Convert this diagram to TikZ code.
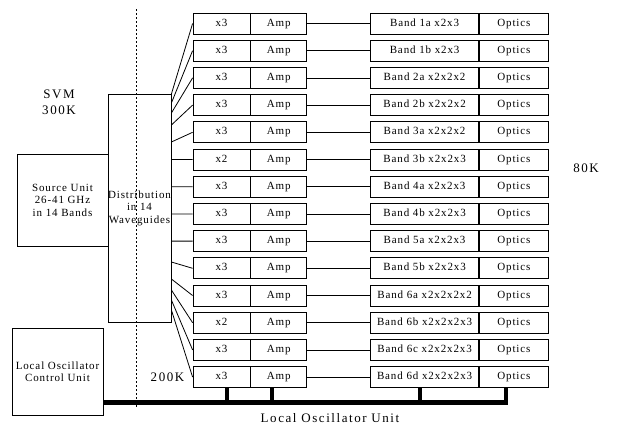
\documentclass[tikz,border=0pt]{standalone}
\usepackage{fontspec}
\setmainfont{Liberation Serif}[LetterSpace=8]
\newfontfamily\labelfont{Liberation Serif}[LetterSpace=12]
\usetikzlibrary{positioning,calc}
\begin{document}
\begin{tikzpicture}
	[
	x = 1pt, y = -1pt,
	every node/.style={font=\fontsize{11}{12.5}\selectfont},
	bx/.style={draw = black, line width = 0.8pt, shape = rectangle, inner sep = 0pt, minimum height = 21pt, text height = 7.5pt, text depth = 2.5pt},
	mult/.style={bx, minimum width = 57pt},
	amp/.style={bx, minimum width = 56pt},
	band/.style={bx, minimum width = 108pt},
	optics/.style={bx, minimum width = 69pt},
	unit/.style={draw = black, line width = 0.8pt, align = center, inner sep = 0pt},
	temp/.style={font=\labelfont\fontsize{13}{16}\selectfont, align = center},
	wire/.style={draw = black, line width = 0.8pt},
	stub/.style={line width = 4pt},
	bus/.style={line width = 5pt}
	]
	
	\useasboundingbox (0,0) rectangle (617,426);
	
	\node[unit, minimum width = 91pt, minimum height = 92pt](src) at (62.5, 200){Source Unit\\26-41 GHz\\in 14 Bands};
	\node[unit, minimum width = 63pt, minimum height = 228pt](dist) at (139.5, 208){Distribution\\in 14\\Waveguides};
	\node[unit, minimum width = 91pt, minimum height = 87pt](lo) at (57.5, 371.5){Local Oscillator\\Control Unit};
	
	\draw[line width = 0.8pt, dash pattern = on 2pt off 2pt] (136, 9) -- (136, 407);
	
	\foreach \i/\m/\b/\d in {1/3/1a x2x3/94, 2/3/1b x2x3/103, 3/3/2a x2x2x2/113,
		4/3/2b x2x2x2/125, 5/3/3a x2x2x2/142, 6/2/3b x2x2x3/159.5, 7/3/4a x2x2x3/186.7,
		8/3/4b x2x2x3/213.9, 9/3/5a x2x2x3/241.1, 10/3/5b x2x2x3/262, 11/3/6a x2x2x2x2/279,
		12/2/6b x2x2x2x3/290, 13/3/6c x2x2x2x3/300, 14/3/6d x2x2x2x3/310}
	{
		\node[mult](m\i) at (221.5, {23.5+27.2*(\i-1)}){x\m};
		\node[amp, right = 0pt of m\i](a\i){Amp};
		\node[band, right = 63pt of a\i](b\i){Band \b};
		\node[optics, right = 0pt of b\i](o\i){Optics};
		\coordinate (d\i) at (dist.east |- 0,\d);
		\draw[wire] (d\i) -- (m\i.west);
		\draw[wire] (a\i) -- (b\i);
	}
	
	\node[temp](svm) at (59, 102){SVM\\300K};
	\node[temp](cold) at (586, 168){80K};
	\node[temp](mid) at (167.5, 377){200K};
	\node[temp](lou) at (330, 418){Local Oscillator Unit};
	
	\coordinate (bus) at (0, 402.5);
	\coordinate (s1) at ($(m14.south west)+(34,0)$);
	\coordinate (s2) at ($(a14.south west)+(22,0)$);
	\coordinate (s3) at ($(b14.south west)+(50,0)$);
	\coordinate (s4) at ($(o14.south west)+(27,0)$);
	\foreach \s in {s1,s2,s3,s4}
		\draw[stub] (\s) -- (\s |- bus);
	\draw[bus, shorten > = -2pt] (lo.east |- bus) -- (s4 |- bus);
\end{tikzpicture}
\end{document}
